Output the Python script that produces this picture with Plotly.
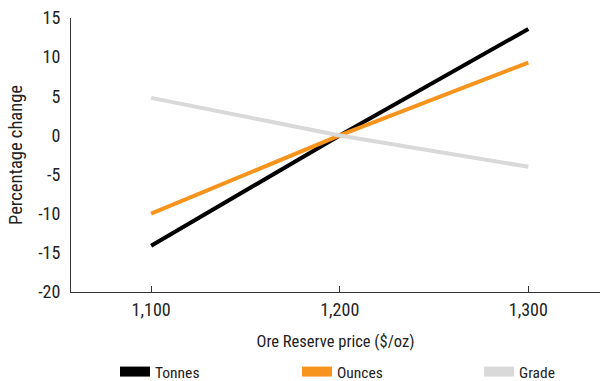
import plotly.graph_objects as go

prices = [1100, 1200, 1300]
tonnes = [-14.1, 0, 13.6]
ounces = [-10.0, 0, 9.3]
grade = [4.8, 0, -4.0]
series_names = ["Tonnes", "Ounces", "Grade"]
colors = ["#000000", "#F7941D", "#D9D9D9"]
y_ticks = [15, 10, 5, 0, -5, -10, -15, -20]
y_tick_labels = ["15", "10", "5", "0", "-5", "-10", "-15", "-20"]
x_ticks = [1100, 1200, 1300]
x_tick_labels = ["1,100", "1,200", "1,300"]

FONT = "Roboto Condensed, Liberation Sans Narrow, Arial Narrow, Liberation Sans, sans-serif"

legend_ids = ["legend", "legend2", "legend3"]
legend_x = [115, 297, 479]

fig = go.Figure()
for name, vals, col, lid in zip(series_names, [tonnes, ounces, grade], colors, legend_ids):
    fig.add_trace(go.Scatter(x=prices, y=vals, mode="lines", name=name,
                             line=dict(color=col, width=4), showlegend=False))
    fig.add_trace(go.Scatter(x=[None], y=[None], mode="lines", name=name,
                             line=dict(color=col, width=10), showlegend=True,
                             legend=lid))

legend_common = dict(orientation="h", yref="container", xref="container",
                     y=1 - 372 / 381, xanchor="left", yanchor="middle",
                     font=dict(size=15.5), itemwidth=30, bgcolor="rgba(0,0,0,0)")

fig.update_layout(
    width=606, height=381,
    margin=dict(l=71, r=6, t=18, b=89, autoexpand=False),
    paper_bgcolor="white", plot_bgcolor="white",
    font=dict(family=FONT, size=15, color="#222222"),
    xaxis=dict(range=[1057.5, 1338], tickvals=x_ticks, ticktext=x_tick_labels,
               showgrid=False, zeroline=False, showline=True, linecolor="#333333",
               linewidth=1, ticks="inside", ticklen=6, tickcolor="#333333",
               automargin=False, ticklabelstandoff=1,
               title=dict(text="Ore Reserve price ($/oz)", font=dict(size=16.5), standoff=16),
               tickfont=dict(size=18)),
    yaxis=dict(range=[-20, 15], tickvals=y_ticks, ticktext=y_tick_labels,
               showgrid=False, zeroline=False,
               showline=True, linecolor="#333333", linewidth=1, ticks="",
               automargin=False, ticklabelstandoff=6,
               title=dict(text="Percentage change", font=dict(size=18.5), standoff=10),
               tickfont=dict(size=18)),
    legend=dict(legend_common, x=legend_x[0] / 606),
    legend2=dict(legend_common, x=legend_x[1] / 606),
    legend3=dict(legend_common, x=legend_x[2] / 606),
)

fig.write_html("out.html", config={"displayModeBar": False},
               post_script="document.body.style.margin='0';")
